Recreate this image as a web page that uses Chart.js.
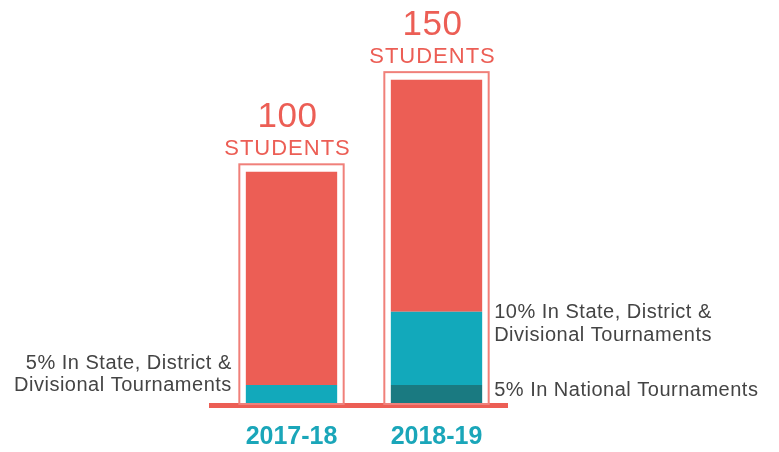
<!DOCTYPE html>
<html>
<head>
<meta charset="utf-8">
<script src="https://cdn.jsdelivr.net/npm/chart.js@4"></script>
<style>
  html, body { margin: 0; padding: 0; background: #fff; }
  #wrap { width: 779px; height: 452px; }
</style>
</head>
<body>
<div id="wrap"><canvas id="chart" width="779" height="452"></canvas></div>
<script>
// values (bar 1 total = 100 units)
const years = ["2017-18", "2018-19"];
const totals = ["100", "150"];
const national = [0, 8.2];
const stateDistrict = [8.2, 31.5];
const rest = [91.8, 100];

const leftNote = ["5% In State, District &", "Divisional Tournaments"];
const rightNoteState = ["10% In State, District &", "Divisional Tournaments"];
const rightNoteNational = ["5% In National Tournaments"];

const RED = "#EC5E55";
const TEAL = "#12A9BB";
const DARK = "#1A7A81";
const FONT = "'Liberation Sans', Arial, sans-serif";

const decorPlugin = {
  id: "decor",
  afterDatasetsDraw(chart) {
    const ctx = chart.ctx;
    const area = chart.chartArea;
    const y0 = chart.scales.y.getPixelForValue(0);
    const metas = chart.data.datasets.map((d, i) => chart.getDatasetMeta(i));

    ctx.save();
    // baseline
    ctx.fillStyle = RED;
    ctx.fillRect(area.left - 10, y0 - 1, area.width + 9, 5);

    years.forEach((y, i) => {
      const bars = metas.map(m => m.data[i]);
      const top = Math.min(...bars.map(b => b.y));
      const bar = bars[0];
      const left = bar.x - bar.width / 2 - 6.5;
      const right = bar.x + bar.width / 2 + 6.5;
      const oTop = top - 7.5;

      ctx.strokeStyle = "#F0807A";
      ctx.lineWidth = 2;
      ctx.strokeRect(left, oTop, right - left, y0 - oTop);

      ctx.fillStyle = RED;
      ctx.textAlign = "center";
      ctx.textBaseline = "alphabetic";
      ctx.letterSpacing = "0.5px";
      ctx.font = "35px " + FONT;
      ctx.fillText(totals[i], bar.x - 4, oTop - 37);
      ctx.letterSpacing = "1px";
      ctx.font = "22px " + FONT;
      ctx.fillText("STUDENTS", bar.x - 4, oTop - 9.5);
    });

    ctx.fillStyle = "#444";
    ctx.font = "20px " + FONT;
    ctx.letterSpacing = "0.5px";

    // left note next to 2017-18 state segment
    const b1 = metas[1].data[0];
    ctx.textAlign = "right";
    ctx.fillText(leftNote[0], b1.x - b1.width / 2 - 14, b1.base - 35);
    ctx.fillText(leftNote[1], b1.x - b1.width / 2 - 14, b1.base - 13);

    // right notes next to 2018-19
    const b2 = metas[1].data[1];
    const b3 = metas[0].data[1];
    const rx = b2.x + b2.width / 2 + 12;
    ctx.textAlign = "left";
    ctx.fillText(rightNoteState[0], rx, b2.y + 6.5);
    ctx.fillText(rightNoteState[1], rx, b2.y + 29);
    ctx.fillText(rightNoteNational[0], rx, b3.base - 8);
    ctx.restore();
  }
};

new Chart(document.getElementById("chart"), {
  type: "bar",
  data: {
    labels: years,
    datasets: [
      { label: "National", data: national, backgroundColor: DARK },
      { label: "State, District & Divisional", data: stateDistrict, backgroundColor: TEAL },
      { label: "Others", data: rest, backgroundColor: RED }
    ]
  },
  options: {
    responsive: false,
    animation: false,
    layout: { padding: { left: 219, right: 270, top: 0, bottom: -18 } },
    datasets: { bar: { barPercentage: 0.63, categoryPercentage: 1, borderWidth: 0 } },
    plugins: { legend: { display: false }, tooltip: { enabled: false } },
    scales: {
      x: {
        stacked: true,
        grid: { display: false, drawTicks: false },
        border: { display: false },
        ticks: {
          color: "#1AA6B9",
          padding: 18,
          font: { family: FONT, size: 25, weight: "bold", lineHeight: 1.2 }
        }
      },
      y: {
        stacked: true,
        display: false,
        min: 0,
        max: 174
      }
    }
  },
  plugins: [decorPlugin]
});
</script>
</body>
</html>
